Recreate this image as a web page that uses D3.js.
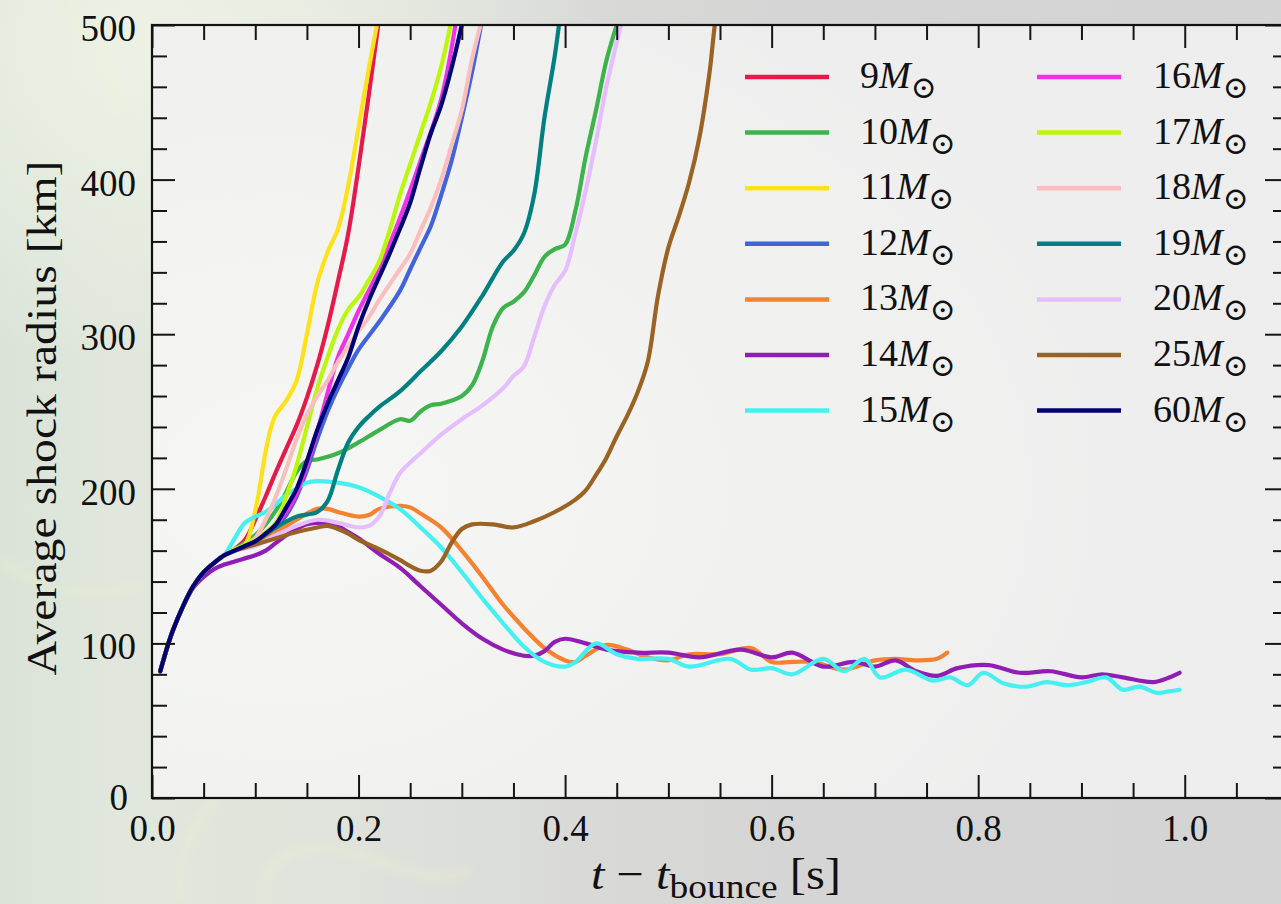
<!DOCTYPE html>
<html>
<head>
<meta charset="utf-8">
<script src="https://cdn.jsdelivr.net/npm/d3@7"></script>
<style>
  html, body { margin: 0; padding: 0; background: #d5d5d5; }
  svg { display: block; }
  text { font-family: "Liberation Serif", "DejaVu Serif", serif; fill: #111; }
</style>
</head>
<body>
<svg id="chart" width="1281" height="904"></svg>
<script>
// ---------------- data ----------------
const masses = ["9", "10", "11", "12", "13", "14", "15", "16", "17", "18", "19", "20", "25", "60"];
const colors = ["#e6194b", "#3cb44b", "#ffe119", "#4363d8", "#f58231", "#911eb4", "#46f0f0",
                "#f032e6", "#bcf60c", "#fabebe", "#008080", "#e6beff", "#9a6324", "#000075"];

// common early rise after bounce: [t (s), radius (km)]
const earlyRise = [[0.008, 82], [0.015, 98], [0.02, 108], [0.03, 124], [0.04, 137], [0.05, 146], [0.06, 152], [0.07, 157]];
// purple (14) leaves the common rise a little earlier
const earlyRise14 = [[0.008, 82], [0.015, 98], [0.02, 108], [0.03, 124], [0.04, 136], [0.05, 143]];

const r9 = [[0.08, 161], [0.09, 167], [0.10, 180], [0.11, 195], [0.12, 211], [0.13, 226], [0.14, 241], [0.15, 259],
  [0.16, 280], [0.17, 305], [0.18, 334], [0.19, 365], [0.20, 408], [0.21, 455], [0.22, 505]];
const r10 = [[0.08, 161], [0.09, 165], [0.10, 170], [0.11, 177], [0.12, 186], [0.13, 198], [0.14, 211], [0.15, 218],
  [0.16, 219], [0.18, 223], [0.20, 230], [0.22, 238], [0.24, 245], [0.25, 244], [0.26, 250], [0.27, 254], [0.28, 255],
  [0.30, 260], [0.31, 267], [0.32, 283], [0.33, 305], [0.34, 317], [0.35, 321], [0.36, 327], [0.37, 338], [0.38, 350],
  [0.39, 355], [0.40, 358], [0.41, 380], [0.42, 415], [0.43, 445], [0.44, 477], [0.45, 500], [0.46, 520]];
const r11 = [[0.08, 161], [0.09, 164], [0.10, 186], [0.11, 224], [0.115, 239], [0.12, 248], [0.13, 257], [0.14, 270],
  [0.15, 300], [0.16, 333], [0.17, 353], [0.18, 368], [0.19, 396], [0.20, 434], [0.21, 472], [0.22, 508]];
const r12 = [[0.08, 160], [0.10, 165], [0.12, 175], [0.13, 183], [0.14, 195], [0.15, 212], [0.16, 232], [0.17, 250],
  [0.18, 265], [0.19, 278], [0.20, 290], [0.22, 308], [0.24, 328], [0.25, 342], [0.26, 356], [0.27, 370], [0.28, 390],
  [0.29, 412], [0.30, 440], [0.31, 470], [0.32, 505]];
const r13 = [[0.08, 160], [0.10, 166], [0.12, 172], [0.14, 180], [0.16, 187], [0.17, 187], [0.18, 185], [0.20, 182],
  [0.21, 183], [0.22, 187], [0.24, 189], [0.25, 188], [0.26, 184], [0.28, 175], [0.30, 160], [0.32, 143], [0.34, 125],
  [0.36, 110], [0.38, 97], [0.40, 89], [0.41, 88], [0.42, 92], [0.44, 99], [0.46, 96], [0.48, 91], [0.50, 89],
  [0.52, 93], [0.55, 93], [0.58, 97], [0.60, 88], [0.62, 88], [0.64, 88], [0.67, 83], [0.70, 89], [0.72, 90],
  [0.74, 89], [0.76, 90], [0.77, 94]];
const r14 = [[0.06, 148], [0.07, 151], [0.08, 153], [0.09, 155], [0.10, 157], [0.11, 160], [0.12, 165], [0.13, 170],
  [0.14, 174], [0.15, 177], [0.16, 178], [0.17, 178], [0.18, 176], [0.19, 172], [0.20, 168], [0.22, 158], [0.24, 149],
  [0.26, 137], [0.28, 125], [0.30, 113], [0.32, 103], [0.34, 96], [0.36, 92], [0.37, 92], [0.38, 95], [0.39, 101],
  [0.40, 103], [0.42, 100], [0.44, 96], [0.47, 94], [0.50, 94], [0.53, 91], [0.57, 96], [0.60, 91], [0.62, 94],
  [0.65, 85], [0.68, 88], [0.70, 85], [0.72, 89], [0.74, 82], [0.76, 79], [0.78, 84], [0.81, 86], [0.84, 81],
  [0.87, 82], [0.90, 78], [0.92, 80], [0.94, 78], [0.97, 75], [0.985, 78], [0.995, 81]];
const r15 = [[0.08, 168], [0.09, 178], [0.10, 182], [0.11, 185], [0.12, 190], [0.13, 196], [0.14, 200], [0.15, 204],
  [0.16, 205], [0.18, 204], [0.20, 201], [0.22, 195], [0.24, 187], [0.26, 175], [0.28, 162], [0.30, 146], [0.32, 129],
  [0.34, 113], [0.36, 98], [0.38, 88], [0.40, 85], [0.41, 88], [0.43, 100], [0.45, 93], [0.47, 90], [0.50, 90],
  [0.52, 85], [0.56, 90], [0.58, 83], [0.60, 84], [0.62, 80], [0.65, 90], [0.67, 82], [0.69, 90], [0.705, 78],
  [0.73, 83], [0.756, 76], [0.773, 78], [0.79, 73], [0.805, 81], [0.825, 74], [0.847, 72], [0.866, 75], [0.886, 73],
  [0.905, 75], [0.924, 78], [0.94, 70], [0.956, 72], [0.973, 68], [0.985, 69], [0.995, 70]];
const r16 = [[0.08, 160], [0.10, 167], [0.12, 177], [0.13, 185], [0.14, 197], [0.15, 215], [0.16, 237], [0.17, 262],
  [0.18, 285], [0.19, 300], [0.20, 315], [0.22, 342], [0.24, 375], [0.26, 412], [0.28, 452], [0.295, 505]];
const r17 = [[0.08, 160], [0.10, 168], [0.11, 172], [0.12, 178], [0.13, 195], [0.14, 215], [0.15, 240], [0.16, 265],
  [0.17, 285], [0.18, 303], [0.19, 316], [0.20, 324], [0.21, 335], [0.22, 347], [0.23, 367], [0.24, 390], [0.25, 410],
  [0.26, 430], [0.27, 450], [0.28, 473], [0.29, 503]];
const r18 = [[0.08, 160], [0.09, 162], [0.10, 168], [0.11, 180], [0.12, 195], [0.13, 213], [0.14, 232], [0.15, 248],
  [0.16, 260], [0.17, 270], [0.18, 282], [0.19, 292], [0.20, 302], [0.21, 311], [0.22, 322], [0.24, 342], [0.25, 352],
  [0.26, 367], [0.27, 382], [0.28, 400], [0.29, 422], [0.30, 445], [0.31, 478], [0.32, 505]];
const r19 = [[0.08, 160], [0.10, 166], [0.12, 175], [0.14, 182], [0.16, 185], [0.17, 192], [0.18, 212], [0.19, 230],
  [0.20, 240], [0.21, 247], [0.22, 253], [0.24, 263], [0.26, 276], [0.28, 289], [0.30, 305], [0.32, 325], [0.34, 347],
  [0.35, 354], [0.36, 365], [0.37, 390], [0.38, 440], [0.39, 480], [0.395, 505]];
const r20 = [[0.08, 160], [0.10, 163], [0.12, 170], [0.14, 176], [0.16, 180], [0.18, 178], [0.20, 175], [0.21, 176],
  [0.22, 182], [0.23, 197], [0.24, 210], [0.25, 217], [0.26, 223], [0.28, 235], [0.30, 245], [0.32, 254], [0.34, 265],
  [0.35, 273], [0.36, 279], [0.37, 298], [0.38, 318], [0.39, 332], [0.40, 341], [0.41, 365], [0.42, 393], [0.43, 425],
  [0.44, 460], [0.456, 505]];
const r25 = [[0.08, 160], [0.09, 162], [0.10, 164], [0.12, 168], [0.14, 172], [0.16, 175], [0.17, 176], [0.18, 174],
  [0.19, 171], [0.20, 167], [0.22, 161], [0.24, 154], [0.25, 150], [0.26, 147], [0.27, 147], [0.28, 153], [0.29, 165],
  [0.30, 174], [0.31, 177], [0.33, 177], [0.35, 175], [0.37, 179], [0.39, 185], [0.41, 193], [0.42, 199], [0.43, 209],
  [0.44, 220], [0.45, 234], [0.46, 247], [0.47, 262], [0.48, 282], [0.49, 325], [0.50, 356], [0.51, 376], [0.52, 398],
  [0.53, 427], [0.54, 470], [0.545, 500], [0.55, 520]];
const r60 = [[0.08, 160], [0.09, 163], [0.10, 166], [0.11, 171], [0.12, 177], [0.13, 188], [0.14, 200], [0.15, 218],
  [0.16, 238], [0.17, 255], [0.18, 270], [0.19, 285], [0.20, 305], [0.21, 322], [0.22, 337], [0.23, 352], [0.24, 368],
  [0.25, 385], [0.26, 408], [0.27, 430], [0.28, 448], [0.29, 472], [0.30, 500]];

const seriesTails = [r9, r10, r11, r12, r13, r14, r15, r16, r17, r18, r19, r20, r25, r60];

const xMajorTicks = [0, 0.2, 0.4, 0.6, 0.8, 1.0];
const yMajorTicks = [0, 100, 200, 300, 400, 500];
const xMinorTicks = [0.05, 0.1, 0.15, 0.25, 0.3, 0.35, 0.45, 0.5, 0.55, 0.65, 0.7, 0.75, 0.85, 0.9, 0.95, 1.05];
const yMinorTicks = [20, 40, 60, 80, 120, 140, 160, 180, 220, 240, 260, 280, 320, 340, 360, 380, 420, 440, 460, 480];

// ---------------- drawing ----------------
const W = 1281, H = 904;
const L = 152, T = 25, R = 1288, B = 798;
const svg = d3.select("#chart");
const defs = svg.append("defs");

// background
const bgGrad = defs.append("linearGradient").attr("id", "bg").attr("x1", 0).attr("x2", 1).attr("y1", 0).attr("y2", 0);
[[0, "#dbe3d8"], [0.1, "#e1e7dc"], [0.25, "#e0e4dc"], [0.45, "#d9dad7"], [0.6, "#d5d5d5"], [1, "#d4d4d4"]]
  .forEach(([o, c]) => bgGrad.append("stop").attr("offset", o).attr("stop-color", c));
svg.append("rect").attr("width", W).attr("height", H).attr("fill", "url(#bg)");

const glow = defs.append("radialGradient").attr("id", "glow").attr("cx", 0.12).attr("cy", 0.05).attr("r", 0.35);
glow.append("stop").attr("offset", 0).attr("stop-color", "#eef3e6").attr("stop-opacity", 0.9);
glow.append("stop").attr("offset", 1).attr("stop-color", "#eef3e6").attr("stop-opacity", 0);
svg.append("rect").attr("width", W).attr("height", H).attr("fill", "url(#glow)");

// faint yellow wisps of the backdrop
const blur = defs.append("filter").attr("id", "blur").attr("x", -0.5).attr("y", -0.5).attr("width", 2).attr("height", 2);
blur.append("feGaussianBlur").attr("stdDeviation", 4);
const wisps = svg.append("g").attr("filter", "url(#blur)").attr("fill", "none").attr("stroke", "#f3f5c4")
  .attr("stroke-width", 4).attr("opacity", 0.45);
wisps.append("path").attr("d", "M180,904 C175,860 190,830 215,800");
wisps.append("path").attr("d", "M265,904 C255,870 290,840 340,850 S430,890 470,870");
wisps.append("path").attr("d", "M60,0 C90,30 110,60 118,110");
wisps.append("path").attr("d", "M0,560 C40,590 90,600 140,585");

// plot area background
const pgrad = defs.append("radialGradient").attr("id", "pbg").attr("cx", 0.15).attr("cy", 0.6).attr("r", 0.75);
pgrad.append("stop").attr("offset", 0).attr("stop-color", "#f7f8f5");
pgrad.append("stop").attr("offset", 0.6).attr("stop-color", "#f2f3f1");
pgrad.append("stop").attr("offset", 1).attr("stop-color", "#efefef");
svg.append("rect").attr("x", L).attr("y", T).attr("width", R - L).attr("height", B - T)
  .attr("fill", "url(#pbg)").attr("opacity", 0.95);

const x = d3.scaleLinear().domain([0, 1.1]).range([L, R]);
const y = d3.scaleLinear().domain([0, 500]).range([B, T]);

defs.append("clipPath").attr("id", "clip").append("rect")
  .attr("x", L).attr("y", T).attr("width", R - L).attr("height", B - T);

const line = d3.line().x(d => x(d[0])).y(d => y(d[1])).curve(d3.curveCatmullRom.alpha(0.5));
const g = svg.append("g").attr("clip-path", "url(#clip)");
seriesTails.forEach((tail, i) => {
  const pts = (masses[i] === "14" ? earlyRise14 : earlyRise).concat(tail);
  g.append("path").attr("d", line(pts)).attr("fill", "none").attr("stroke", colors[i])
    .attr("stroke-width", 4.2).attr("stroke-linejoin", "round").attr("stroke-linecap", "round");
});

// axes (ticks pointing inward on all four sides)
function styleAxis(sel) {
  sel.select(".domain").remove();
  sel.selectAll(".tick line").attr("stroke", "#151515").attr("stroke-width", 2);
  sel.selectAll(".tick text").attr("font-size", 37).attr("fill", "#111")
    .attr("font-family", "'Liberation Serif', 'DejaVu Serif', serif");
}
svg.append("g").attr("transform", `translate(0,${B})`)
  .call(d3.axisBottom(x).tickValues(xMajorTicks).tickSize(-23).tickPadding(17).tickFormat(d3.format(".1f"))).call(styleAxis);
svg.append("g").attr("transform", `translate(0,${B})`)
  .call(d3.axisBottom(x).tickValues(xMinorTicks).tickSize(-15).tickFormat("")).call(styleAxis);
svg.append("g").attr("transform", `translate(0,${T})`)
  .call(d3.axisTop(x).tickValues(xMajorTicks).tickSize(-23).tickFormat("")).call(styleAxis);
svg.append("g").attr("transform", `translate(0,${T})`)
  .call(d3.axisTop(x).tickValues(xMinorTicks).tickSize(-15).tickFormat("")).call(styleAxis);
const yl = svg.append("g").attr("transform", `translate(${L},0)`)
  .call(d3.axisLeft(y).tickValues(yMajorTicks).tickSize(-23).tickPadding(16).tickFormat(d3.format("d"))).call(styleAxis);
yl.selectAll(".tick text").attr("dy", "0.42em");
// keep the "0" of the y axis clear of the "0.0" of the x axis
yl.selectAll(".tick text").filter(d => d === 0).attr("dx", -8).attr("dy", "0.3em");
svg.append("g").attr("transform", `translate(${L},0)`)
  .call(d3.axisLeft(y).tickValues(yMinorTicks).tickSize(-15).tickFormat("")).call(styleAxis);
svg.append("g").attr("transform", `translate(${R},0)`)
  .call(d3.axisRight(y).tickValues(yMajorTicks).tickSize(-23).tickFormat("")).call(styleAxis);
svg.append("g").attr("transform", `translate(${R},0)`)
  .call(d3.axisRight(y).tickValues(yMinorTicks).tickSize(-15).tickFormat("")).call(styleAxis);

svg.append("rect").attr("x", L).attr("y", T).attr("width", R - L).attr("height", B - T)
  .attr("fill", "none").attr("stroke", "#111").attr("stroke-width", 2.2);

// axis labels
svg.append("text").attr("transform", "translate(56,418) rotate(-90)")
  .attr("text-anchor", "middle").attr("font-size", 42).attr("textLength", 515).attr("lengthAdjust", "spacingAndGlyphs")
  .text("Average shock radius [km]");

const xl = svg.append("text").attr("x", 591).attr("y", 889).attr("font-size", 44)
  .attr("textLength", 250).attr("lengthAdjust", "spacingAndGlyphs");
xl.append("tspan").attr("font-style", "italic").text("t");
xl.append("tspan").text(" \u2212 ");
xl.append("tspan").attr("font-style", "italic").text("t");
xl.append("tspan").attr("font-size", 34).attr("dy", 9).text("bounce");
xl.append("tspan").attr("dy", -9).text(" [s]");

// legend
const legendCols = [{lx: 745, tx: 860}, {lx: 1037, tx: 1153}];
const rowY0 = 77, rowStep = 55.6;
masses.forEach((m, i) => {
  const col = legendCols[Math.floor(i / 7)];
  const yy = rowY0 + (i % 7) * rowStep;
  svg.append("line").attr("x1", col.lx).attr("x2", col.lx + 84).attr("y1", yy).attr("y2", yy)
    .attr("stroke", colors[i]).attr("stroke-width", 4.5);
  const t = svg.append("text").attr("x", col.tx).attr("y", yy + 11).attr("font-size", 38);
  t.append("tspan").text(m);
  t.append("tspan").attr("font-style", "italic").text("M");
  t.append("tspan").attr("font-size", 31).attr("dy", 10).attr("font-family", "'DejaVu Serif', serif").text("\u2299");
});
</script>
</body>
</html>
